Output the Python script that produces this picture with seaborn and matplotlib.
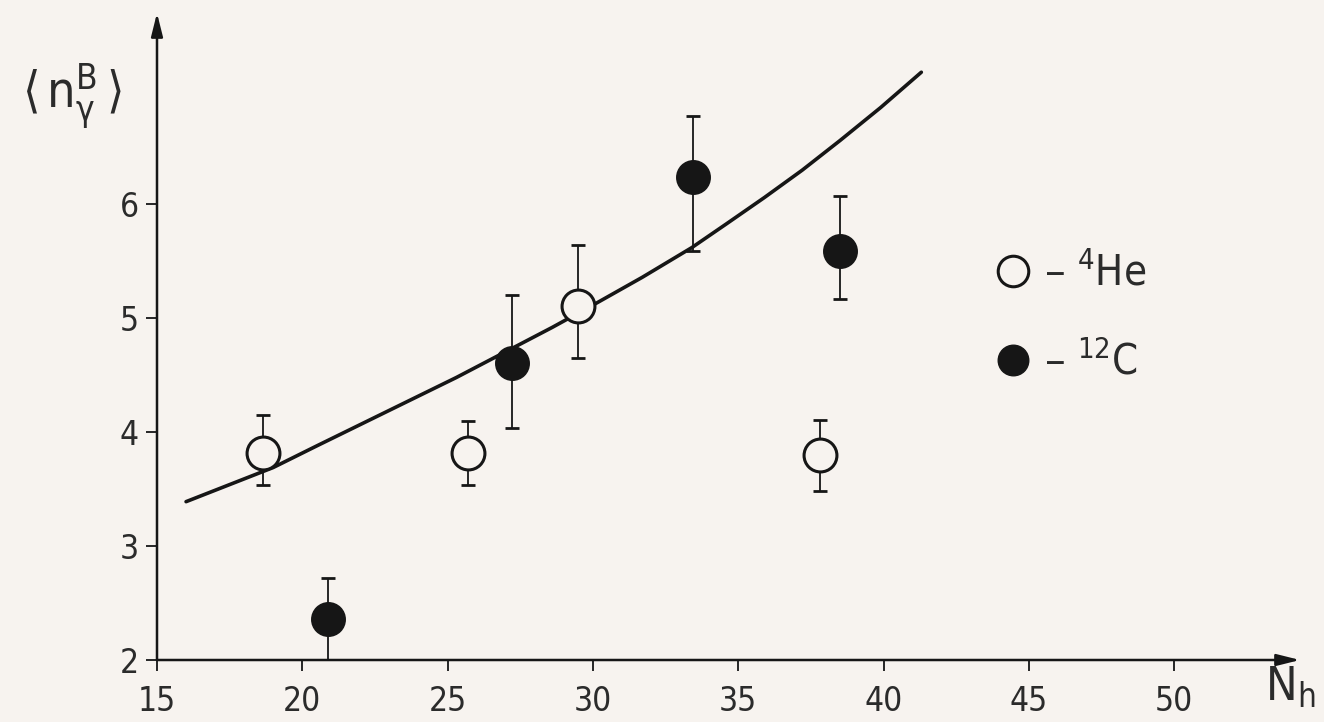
import numpy as np
import matplotlib
matplotlib.use("Agg")
import matplotlib.pyplot as plt
import seaborn as sns
from matplotlib.lines import Line2D

he_x = [18.65, 25.7, 29.5, 37.8]
he_y = [3.82, 3.82, 5.11, 3.80]
he_lo = [3.54, 3.54, 4.65, 3.48]
he_hi = [4.15, 4.10, 5.64, 4.11]

c_x = [20.9, 27.2, 33.45, 38.5]
c_y = [2.36, 4.61, 6.24, 5.59]
c_lo = [1.97, 4.04, 5.59, 5.17]
c_hi = [2.72, 5.20, 6.78, 6.07]

curve_x = [16.0, 17.5, 19.0, 20.5, 22.1, 23.7, 25.3, 27.1, 28.6, 30.1, 31.7, 33.4, 34.6, 35.9, 37.2, 38.5, 39.9, 41.3]
curve_y = [3.39, 3.54, 3.69, 3.88, 4.08, 4.28, 4.48, 4.72, 4.92, 5.13, 5.36, 5.62, 5.83, 6.06, 6.30, 6.56, 6.85, 7.16]

xticks = [15, 20, 25, 30, 35, 40, 45, 50]
yticks = [2, 3, 4, 5, 6]

paper = '#f7f3ef'
ink = '#161616'
txt = '#2b2b2b'

sns.set_style('ticks')
plt.rcParams['font.family'] = ['DejaVu Sans']
plt.rcParams['font.stretch'] = 'condensed'
plt.rcParams['mathtext.fontset'] = 'dejavusans'

fig = plt.figure(figsize=(13.24, 7.22), dpi=100, facecolor=paper)
ax = fig.add_axes([157/1324, 62/722, (1300-157)/1324, (660-13)/722])
ax.set_facecolor(paper)

sns.lineplot(x=curve_x, y=curve_y, sort=False, color=ink, lw=2.6, ax=ax, zorder=2)

# error bars
ax.errorbar(he_x, he_y, yerr=[np.subtract(he_y, he_lo), np.subtract(he_hi, he_y)],
            fmt='none', ecolor=ink, elinewidth=1.3, capsize=5, capthick=2, zorder=1)
ax.errorbar(c_x, c_y, yerr=[np.subtract(c_y, c_lo), np.subtract(c_hi, c_y)],
            fmt='none', ecolor=ink, elinewidth=1.3, capsize=5, capthick=2, zorder=1)

sns.scatterplot(x=he_x, y=he_y, marker='o', s=560, color=paper, edgecolor=ink,
                linewidth=2.2, ax=ax, zorder=3)
sns.scatterplot(x=c_x, y=c_y, marker='o', s=560, color=ink, edgecolor=ink,
                linewidth=1.5, ax=ax, zorder=3)

ax.set_xlim(15, 54.33)
ax.set_ylim(2, 7.68)
ax.set_xticks(xticks)
ax.set_yticks(yticks)
ax.tick_params(axis='x', length=8, width=1.3, pad=10, labelsize=24, colors=ink, labelcolor=txt)
ax.tick_params(axis='y', length=8, width=1.3, pad=5, labelsize=24, colors=ink, labelcolor=txt)
for s in ax.spines.values():
    s.set_visible(False)

# axes drawn as arrows
arr = dict(arrowstyle='-|>,head_length=1.4,head_width=0.35', color=ink, lw=1.8,
           shrinkA=0, shrinkB=0)
ax.annotate('', xy=(0, 1), xytext=(0, 0), xycoords='axes fraction', arrowprops=arr,
            annotation_clip=False)
ax.annotate('', xy=(1, 0), xytext=(0, 0), xycoords='axes fraction', arrowprops=arr,
            annotation_clip=False)

fig.text(72/1324, 1 - 97/722, r'$\mathregular{\langle\, n_{\gamma}^{B}\,\rangle}$', fontsize=36,
         color=txt, ha='center', va='center')
fig.text(1290/1324, 1 - 688/722, r'$\mathregular{N_h}$', fontsize=34,
         color=txt, ha='center', va='center')

handles = [Line2D([], [], ls='none', marker='o', ms=22, mfc=paper, mec=ink, mew=2.2),
           Line2D([], [], ls='none', marker='o', ms=22, mfc=ink, mec=ink)]
ax.legend(handles, [r'– $\mathregular{^{4}He}$', r'– $\mathregular{^{12}C}$'],
          loc='center left', bbox_to_anchor=(990/1324, 1 - 318/722),
          bbox_transform=fig.transFigure, frameon=False, fontsize=30,
          labelspacing=1.1, handletextpad=0.2, handlelength=1.1, borderpad=0,
          borderaxespad=0, labelcolor=txt)

fig.savefig('out.png', dpi=100, facecolor=paper)
